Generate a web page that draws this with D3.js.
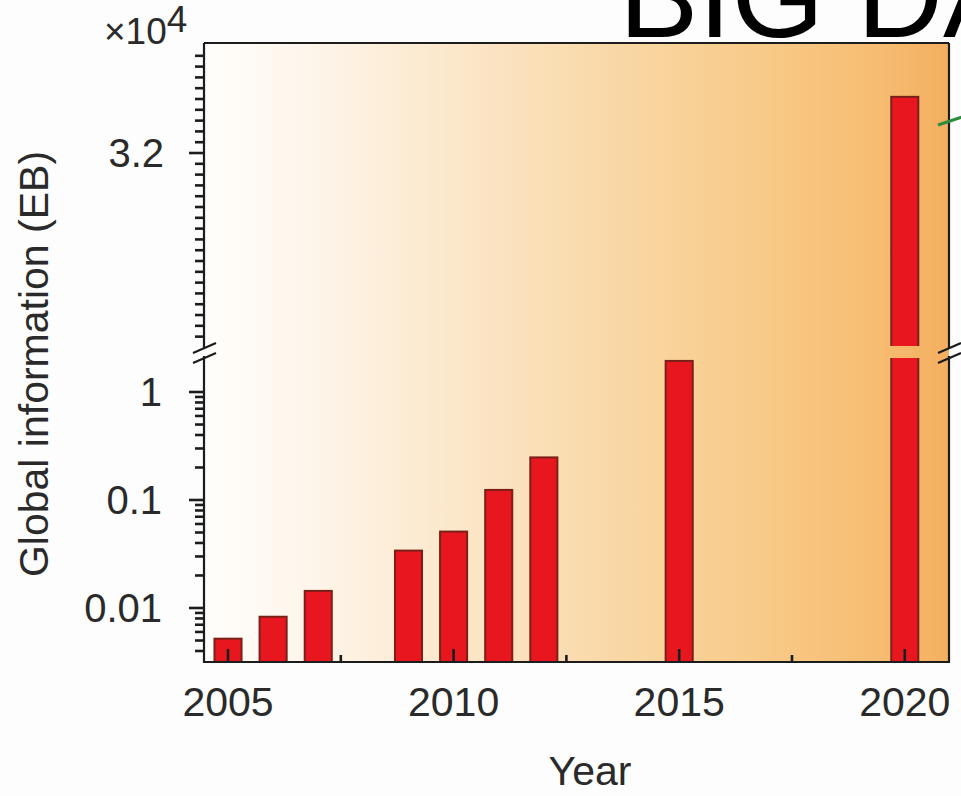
<!DOCTYPE html>
<html><head><meta charset="utf-8">
<script src="https://cdn.jsdelivr.net/npm/d3@7"></script>
<style>html,body{margin:0;padding:0;background:#fdfdfd;} svg{display:block;}</style>
</head><body>
<svg id="chart" width="961" height="796"></svg>
<script>
// ---- data ----
const years = [2005, 2006, 2007, 2009, 2010, 2011, 2012, 2015, 2020];
const values = [0.0052, 0.0083, 0.0144, 0.034, 0.051, 0.124, 0.248, 1.94, 3.72]; // x10^4 EB
const xMajorTicks = [2005, 2010, 2015, 2020];
const xTickLabels = ["2005", "2010", "2015", "2020"];
const xMinorTicks = [2007.5, 2012.5, 2017.5];
const lowerMajorTicks = [0.01, 0.1, 1];
const lowerTickLabels = ["0.01", "0.1", "1"];
const upperMajorTicks = [3.2];
const upperTickLabels = ["3.2"];
const yLabel = "Global information (EB)";
const xLabel = "Year";
const multBase = "×10", multExp = "4";
const titleText = "BIG DA";

// ---- layout ----
const L = 204, R = 949, T = 43, B = 662;
const breakTop = 347, breakBottom = 357;
const font = "'Liberation Sans', Arial, Helvetica, sans-serif";
const ink = "#2a2a2a";

const svg = d3.select("#chart");
const defs = svg.append("defs");
const grad = defs.append("linearGradient").attr("id", "bg")
  .attr("gradientUnits", "userSpaceOnUse")
  .attr("x1", L).attr("x2", R).attr("y1", 0).attr("y2", 0);
[[0, "#fffdfb"], [0.12, "#fef7ee"], [0.35, "#fbe6c8"], [0.55, "#f9d8a6"], [0.75, "#f8ca88"], [0.9, "#f6bd72"], [1, "#f4af60"]]
  .forEach(([o, c]) => grad.append("stop").attr("offset", o).attr("stop-color", c));

const x = d3.scaleLinear().domain([2004.468, 2020.98]).range([L, R]);
const yLow = d3.scaleLog().domain([0.003162, 2.1093]).range([B, breakBottom]);
const yUp = d3.scaleLinear().domain([1.404, 4.2185]).range([breakTop, T]);
const barW = x(2005.6) - x(2005);
const lowMax = yLow.domain()[1];

// plot background
svg.append("rect").attr("x", L).attr("y", T).attr("width", R - L).attr("height", B - T).attr("fill", "url(#bg)");

// bars
const bars = svg.append("g");
years.forEach((yr, i) => {
  const v = values[i];
  const cx = x(yr);
  const yTopLow = yLow(Math.min(v, lowMax));
  bars.append("rect").attr("x", cx - barW / 2).attr("y", yTopLow)
    .attr("width", barW).attr("height", B - yTopLow)
    .attr("fill", "#e8171f").attr("stroke", "#7a2018").attr("stroke-width", 2);
  if (v > lowMax) {
    const yt = yUp(v);
    bars.append("rect").attr("x", cx - barW / 2).attr("y", yt)
      .attr("width", barW).attr("height", breakTop - yt)
      .attr("fill", "#e8171f").attr("stroke", "#7a2018").attr("stroke-width", 2);
  }
});

// break band
svg.append("rect").attr("x", L + 1).attr("y", breakTop - 1).attr("width", R - L - 2)
  .attr("height", breakBottom - breakTop + 2).attr("fill", "url(#bg)");

// frame
const frame = svg.append("g").attr("stroke", "#1c1c1c").attr("stroke-width", 2.2).attr("fill", "none");
frame.append("line").attr("x1", L).attr("x2", R).attr("y1", T).attr("y2", T);
frame.append("line").attr("x1", L).attr("x2", R).attr("y1", B).attr("y2", B);
frame.append("line").attr("x1", L).attr("x2", L).attr("y1", T).attr("y2", breakTop + 1);
frame.append("line").attr("x1", L).attr("x2", L).attr("y1", breakBottom - 1).attr("y2", B + 1);
frame.append("line").attr("x1", R).attr("x2", R).attr("y1", T).attr("y2", breakTop + 1);
frame.append("line").attr("x1", R).attr("x2", R).attr("y1", breakBottom - 1).attr("y2", B + 1);
// break marks
[L, R].forEach(ax => {
  [breakTop, breakBottom].forEach(by => {
    frame.append("line").attr("x1", ax - 11).attr("y1", by + 6).attr("x2", ax + 12).attr("y2", by - 4);
  });
});

// y ticks lower (log)
const tickG = svg.append("g").attr("stroke", "#1c1c1c").attr("stroke-width", 2.6);
const lowMinor = yLow.ticks().filter(t => t <= 1.0001 && !lowerMajorTicks.some(m => Math.abs(m - t) < 1e-9));
lowMinor.forEach(t => tickG.append("line").attr("x1", L - 9).attr("x2", L).attr("y1", yLow(t)).attr("y2", yLow(t)));
lowerMajorTicks.forEach(t => tickG.append("line").attr("x1", L - 15).attr("x2", L).attr("y1", yLow(t)).attr("y2", yLow(t)));
// y ticks upper (linear)
const upMinor = yUp.ticks(30).filter(t => t < 4.15 && !upperMajorTicks.some(m => Math.abs(m - t) < 1e-9));
upMinor.forEach(t => tickG.append("line").attr("x1", L - 9).attr("x2", L).attr("y1", yUp(t)).attr("y2", yUp(t)));
upperMajorTicks.forEach(t => tickG.append("line").attr("x1", L - 15).attr("x2", L).attr("y1", yUp(t)).attr("y2", yUp(t)));
// x ticks (inward)
xMajorTicks.forEach(t => tickG.append("line").attr("x1", x(t)).attr("x2", x(t)).attr("y1", B).attr("y2", B - 13));
xMinorTicks.forEach(t => tickG.append("line").attr("x1", x(t)).attr("x2", x(t)).attr("y1", B).attr("y2", B - 7));

// tick labels
const labels = svg.append("g").attr("font-family", font).attr("fill", ink).attr("font-size", 40);
lowerMajorTicks.forEach((t, i) => labels.append("text").attr("x", 162).attr("y", yLow(t)).attr("dy", "0.36em")
  .attr("text-anchor", "end").text(lowerTickLabels[i]));
upperMajorTicks.forEach((t, i) => labels.append("text").attr("x", 164).attr("y", yUp(t)).attr("dy", "0.36em")
  .attr("text-anchor", "end").text(upperTickLabels[i]));
xMajorTicks.forEach((t, i) => labels.append("text").attr("x", x(t)).attr("y", 716)
  .attr("text-anchor", "middle").attr("font-size", 41).text(xTickLabels[i]));

// multiplier
const mult = svg.append("text").attr("font-family", font).attr("fill", ink).attr("font-size", 37).attr("x", 104).attr("y", 44);
mult.append("tspan").text(multBase);
mult.append("tspan").attr("dy", -12).text(multExp);

// axis titles
svg.append("text").attr("font-family", font).attr("fill", ink).attr("font-size", 41)
  .attr("text-anchor", "middle").attr("transform", "translate(48,364) rotate(-90)").text(yLabel);
svg.append("text").attr("font-family", font).attr("fill", ink).attr("font-size", 41)
  .attr("text-anchor", "middle").attr("x", 590).attr("y", 785).text(xLabel);

// title fragment (cropped at the top/right edge as in the reference)
svg.append("text").attr("font-family", font).attr("fill", "#000").attr("font-size", 119)
  .attr("x", 619).attr("y", 37).text(titleText);

// green pointer
svg.append("line").attr("x1", 938).attr("y1", 125).attr("x2", 962).attr("y2", 117)
  .attr("stroke", "#2e8b3c").attr("stroke-width", 3);
</script>
</body></html>
